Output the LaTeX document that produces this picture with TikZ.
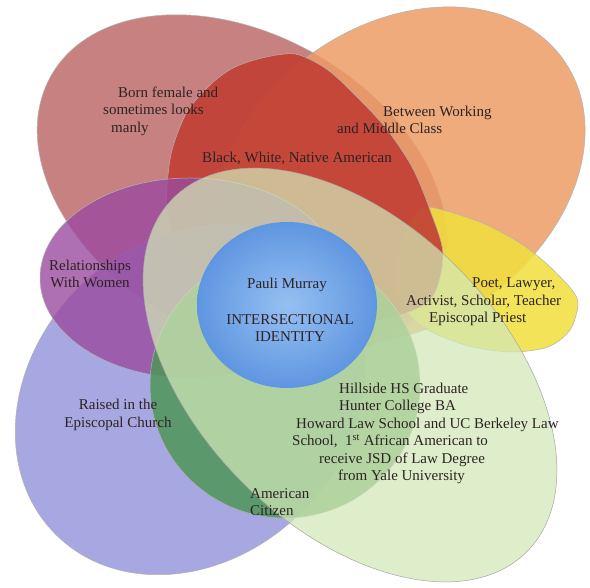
\documentclass[tikz,border=0pt]{standalone}
\usepackage{fontspec}
\setmainfont{Liberation Serif}

\definecolor{rosefill}{RGB}{191,108,108}
\definecolor{orangefill}{RGB}{237,157,102}
\definecolor{redfill}{RGB}{193,63,52}
\definecolor{yellowfill}{RGB}{240,223,61}
\definecolor{bluefill}{RGB}{146,146,218}
\definecolor{purplefill}{RGB}{155,75,160}
\definecolor{greenfill}{RGB}{78,150,88}
\definecolor{palefill}{RGB}{210,232,182}
\definecolor{circlein}{RGB}{150,192,242}
\definecolor{circleout}{RGB}{95,150,225}
\definecolor{labeltext}{RGB}{45,35,35}

\tikzset{
    petal/.style={draw=gray!60, line width=0.5pt, fill opacity=0.85},
    lbl/.style={text=labeltext, inner sep=0pt, font=\fontsize{15}{17.5}\selectfont}
}

\begin{document}
\begin{tikzpicture}[x=1pt,y=1pt]
                \useasboundingbox (0,0) rectangle (590,588);
                \fill[white] (0,0) rectangle (590,588);

                % outer petals
                \draw[
                    petal,
                    fill=rosefill,
                    rotate around={-30:(242,403)}
                    ] (242,403) ellipse (220 and 150);

                \draw[
                    petal,
                    fill=orangefill,
                    rotate around={35:(400,413)}
                    ] (400,413) ellipse (200 and 150);

                \draw[
                    petal,
                    fill=yellowfill
                    ] plot[smooth cycle] coordinates {(428,381) (480,366) (520,345)
                    (548,323) (572,298) (578,283) (570,258) (548,241) (510,236)
                    (465,243) (420,263) (395,298) (400,343) (412,370)};

                \draw[
                    petal,
                    fill=redfill,
                    fill opacity=0.9
                    ] plot[smooth cycle] coordinates {(262,530) (295,534) (325,520)
                    (350,498) (385,461) (412,421) (430,378) (443,333) (430,288)
                    (380,268) (300,266) (230,283) (185,323) (168,373) (167,401)
                    (172,438) (187,476) (210,503) (233,520)};

                \draw[
                    petal,
                    fill=bluefill,
                    fill opacity=0.8,
                    rotate around={45:(190,188)}
                    ] (190,188) ellipse (190 and 158);

                \draw[
                    petal,
                    fill=purplefill,
                    fill opacity=0.8
                    ] (190,310) ellipse (150 and 100);

                \draw[
                    petal,
                    fill=greenfill
                    ] (285,203) ellipse (135 and 133);

                % big ellipse and centre
                \draw[
                    petal,
                    fill=palefill,
                    fill opacity=0.72,
                    draw=gray!70,
                    rotate around={-45:(350,213)}
                    ] (350,213) ellipse (250 and 152);

                \shade[
                    inner color=circlein,
                    outer color=circleout
                    ] (287,283) ellipse (90 and 83);

                % labels
                \node[lbl, anchor=west, align=left] (born) at (103,477)
                    {\hspace*{15pt}Born female and\\sometimes looks\\\hspace*{8pt}manly};
                \node[lbl, anchor=west, align=left] (working) at (337,468)
                    {\hspace*{46pt}Between Working\\and Middle Class};
                \node[lbl] (race) at (297,430) {Black, White, Native American};
                \node[lbl, align=center] (women) at (90,314) {Relationships\\With Women};
                \node[lbl] (pauli) at (287,303) {Pauli Murray};
                \node[lbl, align=center] (identity) at (290,260) {INTERSECTIONAL\\IDENTITY};
                \node[lbl, anchor=west, align=left] (work) at (406,286)
                    {\hspace*{66pt}Poet, Lawyer,\\Activist, Scholar, Teacher\\\hspace*{23pt}Episcopal Priest};
                \node[lbl, anchor=west, align=left] (school) at (292,154.5)
                    {\hspace*{47pt}Hillside HS Graduate\\
                     \hspace*{47pt}Hunter College BA\\
                     \hspace*{4pt}Howard Law School and UC Berkeley Law\\
                     School,\ \ 1\textsuperscript{st} African American to\\
                     \hspace*{27pt}receive JSD of Law Degree\\
                     \hspace*{46pt}from Yale University};
                \node[lbl, align=center] (church) at (118,173) {Raised in the\\Episcopal Church};
                \node[lbl, anchor=west, align=left] (citizen) at (250,86) {American\\Citizen};
\end{tikzpicture}
\end{document}
